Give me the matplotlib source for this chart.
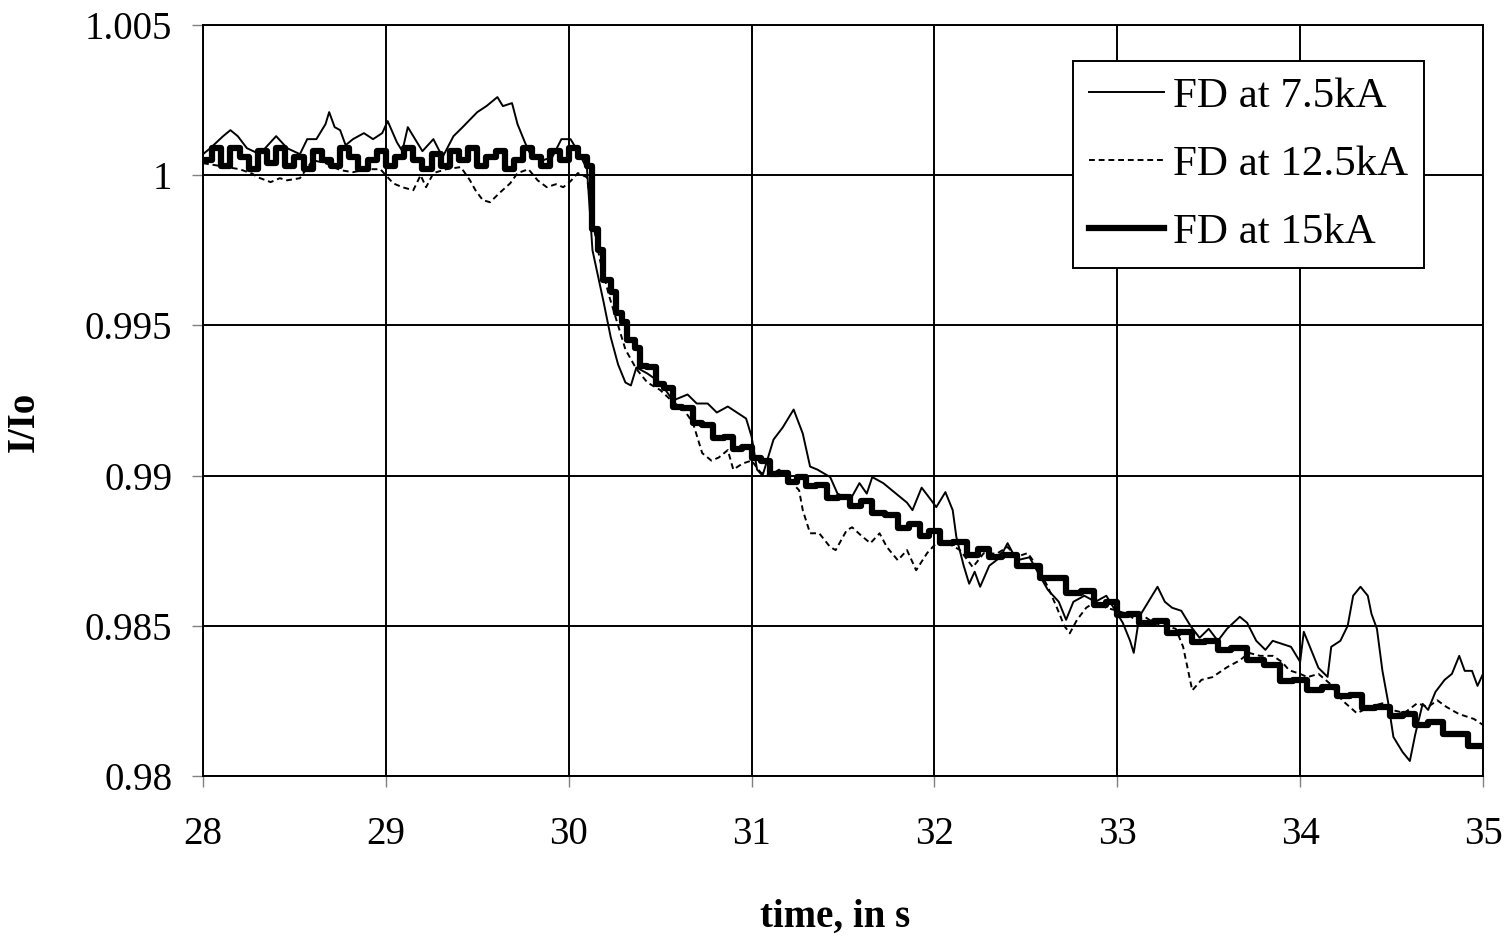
import numpy as np
import matplotlib.pyplot as plt
from matplotlib.ticker import FormatStrFormatter

plt.rcParams['font.family'] = ['Liberation Serif', 'DejaVu Serif']

# FD at 7.5kA (thin solid)
t75 = [28.00, 28.04, 28.11, 28.15, 28.19, 28.24, 28.31, 28.40, 28.46, 28.53,
       28.57, 28.62, 28.67, 28.69, 28.72, 28.75, 28.78, 28.82, 28.88, 28.93,
       28.98, 29.01, 29.06, 29.09, 29.12, 29.16, 29.20, 29.26, 29.31, 29.37,
       29.42, 29.50, 29.55, 29.61, 29.64, 29.69, 29.72, 29.76, 29.79, 29.86,
       29.91, 29.96, 30.01, 30.06, 30.10, 30.13, 30.19, 30.23, 30.27, 30.31,
       30.34, 30.37, 30.43, 30.50, 30.57, 30.65, 30.70, 30.76, 30.81, 30.87,
       30.92, 30.97, 31.00, 31.03, 31.06, 31.12, 31.17, 31.23, 31.28, 31.32,
       31.36, 31.43, 31.47, 31.54, 31.59, 31.63, 31.66, 31.72, 31.77, 31.85,
       31.88, 31.93, 31.98, 32.01, 32.06, 32.10, 32.12, 32.16, 32.19, 32.22,
       32.25, 32.30, 32.36, 32.40, 32.45, 32.52, 32.58, 32.62, 32.68, 32.72,
       32.76, 32.82, 32.88, 32.94, 32.98, 33.03, 33.07, 33.09, 33.12, 33.17,
       33.22, 33.26, 33.30, 33.35, 33.40, 33.45, 33.50, 33.55, 33.60, 33.67,
       33.71, 33.76, 33.81, 33.85, 33.90, 33.95, 34.00, 34.02, 34.06, 34.10,
       34.15, 34.17, 34.22, 34.26, 34.29, 34.33, 34.37, 34.39, 34.42, 34.45,
       34.48, 34.51, 34.56, 34.60, 34.63, 34.67, 34.70, 34.74, 34.79, 34.83,
       34.87, 34.90, 34.94, 34.97, 35.00]
v75 = [1.0007, 1.0009, 1.0013, 1.0015, 1.0013, 1.0009, 1.0007, 1.0013, 1.0009, 1.0007,
       1.0012, 1.0012, 1.0017, 1.0021, 1.0016, 1.0015, 1.0010, 1.0012, 1.0014, 1.0012,
       1.0014, 1.0018, 1.0011, 1.0008, 1.0016, 1.0012, 1.0008, 1.0012, 1.0006, 1.0013,
       1.0016, 1.0021, 1.0023, 1.0026, 1.0023, 1.0024, 1.0017, 1.0011, 1.0007, 1.0005,
       1.0006, 1.0012, 1.0012, 1.0007, 1.0002, 0.9975, 0.9958, 0.9946, 0.9937, 0.9931,
       0.9930, 0.9936, 0.9934, 0.9931, 0.9925, 0.9927, 0.9924, 0.9924, 0.9921, 0.9923,
       0.9921, 0.9919, 0.9913, 0.9902, 0.9900, 0.9912, 0.9916, 0.9922, 0.9914, 0.9903,
       0.9902, 0.98995, 0.9894, 0.9892, 0.98975, 0.9894, 0.98995, 0.98975, 0.9895, 0.9891,
       0.98885, 0.9896, 0.9892, 0.98895, 0.98945, 0.98885, 0.98795, 0.9870, 0.9864, 0.9868,
       0.9863, 0.9870, 0.98728, 0.98775, 0.98718, 0.98728, 0.98662, 0.9862, 0.9858, 0.9852,
       0.9858, 0.9860, 0.9858, 0.9860, 0.9856, 0.9851, 0.9845, 0.9841, 0.9853, 0.9858,
       0.9863, 0.9858, 0.9856, 0.9855, 0.9850, 0.9846, 0.9849, 0.9845, 0.9849, 0.9853,
       0.9851, 0.9845, 0.9842, 0.9845, 0.9844, 0.9843, 0.9838, 0.9848, 0.9842, 0.9836,
       0.9833, 0.9843, 0.9845, 0.9850, 0.9860, 0.9863, 0.9860, 0.9854, 0.9849, 0.9835,
       0.9825, 0.9813, 0.9808, 0.9805, 0.9814, 0.9824, 0.9822, 0.9828, 0.9832, 0.9834,
       0.9840, 0.9835, 0.9835, 0.9830, 0.9834]

# FD at 12.5kA (dashed)
t125 = [28.00, 28.10, 28.20, 28.27, 28.30, 28.37, 28.42, 28.46, 28.53, 28.60,
        28.67, 28.75, 28.82, 28.90, 28.97, 29.04, 29.09, 29.15, 29.19, 29.22,
        29.26, 29.33, 29.41, 29.46, 29.49, 29.53, 29.57, 29.62, 29.68, 29.72,
        29.78, 29.83, 29.88, 29.93, 29.97, 30.01, 30.05, 30.10, 30.13, 30.17,
        30.22, 30.27, 30.31, 30.37, 30.43, 30.50, 30.57, 30.63, 30.68, 30.73,
        30.78, 30.82, 30.87, 30.90, 30.95, 31.00, 31.05, 31.10, 31.15, 31.20,
        31.26, 31.28, 31.32, 31.37, 31.43, 31.46, 31.49, 31.52, 31.55, 31.60,
        31.65, 31.70, 31.74, 31.80, 31.85, 31.90, 31.96, 32.01, 32.06, 32.14,
        32.21, 32.27, 32.34, 32.40, 32.45, 32.51, 32.56, 32.62, 32.67, 32.71,
        32.74, 32.78, 32.83, 32.88, 32.94, 33.00, 33.05, 33.10, 33.15, 33.20,
        33.26, 33.32, 33.36, 33.41, 33.46, 33.52, 33.60, 33.67, 33.72, 33.78,
        33.85, 33.90, 33.94, 34.00, 34.04, 34.10, 34.16, 34.23, 34.31, 34.38,
        34.45, 34.50, 34.57, 34.64, 34.70, 34.75, 34.80, 34.86, 34.89, 34.95,
        35.00]
v125 = [1.0004, 1.0003, 1.0002, 1.00005, 0.99993, 0.99977, 0.9999, 0.99983, 0.9999, 1.0005,
        1.0004, 1.00017, 1.0001, 1.0002, 1.0002, 0.99973, 0.9996, 0.9995, 1.0000, 0.9996,
        1.00007, 1.0002, 1.00027, 0.99983, 0.9995, 0.99917, 0.9991, 0.9994, 0.99973, 1.00007,
        1.0002, 0.99983, 0.9996, 0.9997, 0.9996, 0.9998, 1.00007, 0.99993, 0.9985, 0.9972,
        0.9960, 0.9950, 0.9942, 0.99355, 0.9931, 0.99285, 0.99245, 0.9922, 0.99174, 0.99075,
        0.9905, 0.9906, 0.99085, 0.9902, 0.9904, 0.9905, 0.9901, 0.9900, 0.9902, 0.9899,
        0.98951, 0.98885, 0.98808, 0.98808, 0.98762, 0.98752, 0.98785, 0.98818, 0.98828, 0.9880,
        0.98775, 0.98808, 0.98762, 0.98718, 0.98752, 0.98685, 0.98742, 0.98775, 0.9878, 0.98752,
        0.98695, 0.98742, 0.9874, 0.98762, 0.9873, 0.98742, 0.9870, 0.9863, 0.9856, 0.9850,
        0.98475, 0.9852, 0.9856, 0.9858, 0.9856, 0.9855, 0.9854, 0.9852, 0.9853, 0.9851,
        0.9850, 0.9849, 0.9843, 0.98285, 0.9832, 0.98329, 0.98362, 0.98385, 0.9841, 0.9840,
        0.9840, 0.9838, 0.98352, 0.9834, 0.98329, 0.9834, 0.98309, 0.98252, 0.98209, 0.9823,
        0.98242, 0.9822, 0.9821, 0.98242, 0.9823, 0.98252, 0.9823, 0.98209, 0.98202, 0.9819,
        0.9817]

# FD at 15kA (thick, stepped)
t15 = [28.00, 28.05, 28.10, 28.15, 28.20, 28.25, 28.30, 28.35, 28.40, 28.45,
       28.50, 28.55, 28.60, 28.65, 28.70, 28.75, 28.80, 28.85, 28.90, 28.95,
       29.00, 29.05, 29.10, 29.15, 29.20, 29.25, 29.30, 29.35, 29.40, 29.45,
       29.50, 29.55, 29.60, 29.65, 29.70, 29.75, 29.80, 29.85, 29.90, 29.95,
       30.00, 30.05,
       30.10, 30.13, 30.16, 30.19, 30.23, 30.26, 30.29, 30.32, 30.36, 30.39,
       30.43, 30.48, 30.52, 30.57, 30.62, 30.68, 30.73, 30.79, 30.85, 30.90,
       30.95, 31.00, 31.05, 31.10, 31.15, 31.20, 31.25, 31.30, 31.35, 31.41,
       31.47, 31.54, 31.60, 31.66, 31.73, 31.80, 31.86, 31.92, 31.97, 32.03,
       32.10, 32.18, 32.24, 32.30, 32.37, 32.45, 32.51, 32.58, 32.65, 32.72,
       32.80, 32.87, 32.94, 33.00, 33.06, 33.12, 33.20, 33.27, 33.34, 33.41,
       33.48, 33.55, 33.62, 33.71, 33.80, 33.89, 33.96, 34.04, 34.12, 34.20,
       34.27, 34.34, 34.41, 34.49, 34.56, 34.63, 34.70, 34.78, 34.85, 34.92,
       35.00]
v15 = [1.0005, 1.0009, 1.0003, 1.0009, 1.0006, 1.0002, 1.0008, 1.0004, 1.0009, 1.0003,
       1.0006, 1.0002, 1.0008, 1.0005, 1.0003, 1.0009, 1.0006, 1.0002, 1.0005, 1.0008,
       1.0003, 1.0006, 1.0009, 1.0005, 1.0002, 1.0007, 1.0003, 1.0008, 1.0005, 1.0009,
       1.0003, 1.0006, 1.0008, 1.0002, 1.0005, 1.0009, 1.0006, 1.0003, 1.0008, 1.0005,
       1.0009, 1.0006,
       1.0003, 0.9982, 0.9975, 0.9965, 0.9961, 0.9954, 0.9951, 0.9945, 0.99425, 0.99365,
       0.9936, 0.99305, 0.9929, 0.9923, 0.99225, 0.99175, 0.9917, 0.99125, 0.9913, 0.9909,
       0.99095, 0.9906, 0.9905, 0.99005, 0.9901, 0.9898, 0.98995, 0.98965, 0.9897, 0.98925,
       0.9893, 0.9890, 0.98915, 0.98875, 0.9887, 0.98825, 0.9884, 0.9880, 0.98815, 0.98775,
       0.9878, 0.98735, 0.98755, 0.9873, 0.98735, 0.9870, 0.9870, 0.9866, 0.9866, 0.9861,
       0.98615, 0.9857, 0.9858, 0.98535, 0.9854, 0.9851, 0.98515, 0.98475, 0.9848, 0.98445,
       0.9845, 0.9842, 0.98425, 0.98385, 0.9837, 0.98315, 0.9832, 0.98285, 0.98295, 0.98265,
       0.9827, 0.98225, 0.9823, 0.9820, 0.98205, 0.9817, 0.9818, 0.9814, 0.9814, 0.9810,
       0.9810]

xticks = [28, 29, 30, 31, 32, 33, 34, 35]
yticks = [0.98, 0.985, 0.99, 0.995, 1.0, 1.005]

fig = plt.figure(figsize=(15.09, 9.40), dpi=100)
ax = fig.add_axes([203/1509, 1-776/940, 1280/1509, 751/940])

ax.plot(t75, v75, color='black', lw=1.4, label='FD at 7.5kA')
ax.plot(t125, v125, color='black', lw=1.4, linestyle=(0, (3, 2)), label='FD at 12.5kA')
ax.plot(t15, v15, color='black', lw=4.5, drawstyle='steps-post', label='FD at 15kA')

ax.set_xlim(28, 35)
ax.set_ylim(0.98, 1.005)
ax.set_xticks(xticks)
ax.set_yticks(yticks)
ax.yaxis.set_major_formatter(FormatStrFormatter('%g'))
ax.grid(True, color='black', lw=1.4)
ax.set_axisbelow(True)
for s in ax.spines.values():
    s.set_color('black')
    s.set_linewidth(1.4)

ax.tick_params(axis='both', direction='out', length=8, width=1, color='gray', labelsize=28)
ax.tick_params(axis='y', pad=14)
ax.tick_params(axis='x', pad=21)

ax.set_xlabel('time, in s', fontsize=28, fontweight='bold')
ax.xaxis.set_label_coords(0.494, -0.163)
ax.set_ylabel('I/Io', fontsize=28, fontweight='bold')
ax.yaxis.set_label_coords(-0.125, 0.471)

leg = ax.legend(loc='upper left', bbox_to_anchor=(1073/1509, 1-61/940),
                bbox_transform=fig.transFigure, fontsize=31, frameon=True,
                fancybox=False, shadow=False, framealpha=1, borderaxespad=0,
                borderpad=0.36, handlelength=1.75, handletextpad=0.22, labelspacing=0.68)
leg.get_frame().set_edgecolor('black')
leg.get_frame().set_linewidth(1.4)

plt.savefig('out.png', dpi=100)
